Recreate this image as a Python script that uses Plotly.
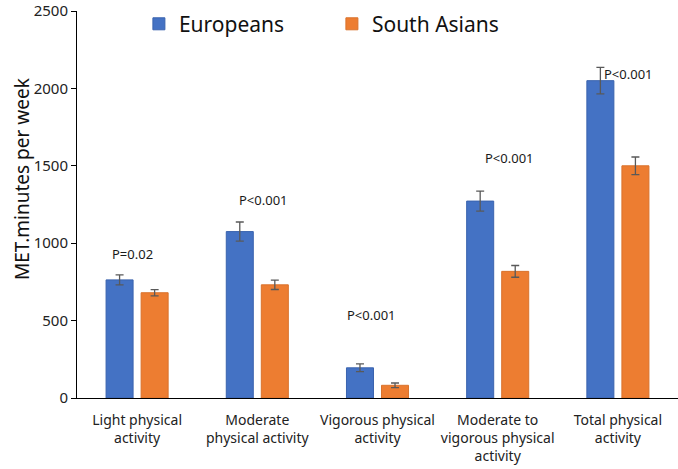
import plotly.graph_objects as go

categories = ["Light physical<br>activity", "Moderate<br>physical activity", "Vigorous physical<br>activity",
              "Moderate to<br>vigorous physical<br>activity", "Total physical<br>activity"]
europeans = [763, 1075, 195, 1272, 2050]
europeans_err = [32, 62, 25, 65, 86]
south_asians = [680, 731, 82, 818, 1500]
south_asians_err = [20, 30, 15, 38, 57]
p_labels = ["P=0.02", "P<0.001", "P<0.001", "P<0.001", "P<0.001"]
p_label_y = [931, 1282, 536, 1550, 2092]
p_label_xshift = [-5, 6, -6, 12, 11]

fig = go.Figure()
fig.add_trace(go.Bar(
    name="Europeans", x=categories, y=europeans,
    marker=dict(color="#4472C4", line=dict(color="#3A63AE", width=1)),
    error_y=dict(type="data", array=europeans_err, color="#595959", thickness=1.3, width=4),
))
fig.add_trace(go.Bar(
    name="South Asians", x=categories, y=south_asians,
    marker=dict(color="#ED7D31", line=dict(color="#D9722C", width=1)),
    error_y=dict(type="data", array=south_asians_err, color="#595959", thickness=1.3, width=4),
))

for c, lab, yy, xs in zip(categories, p_labels, p_label_y, p_label_xshift):
    fig.add_annotation(x=c, y=yy, text=lab, showarrow=False, xshift=xs,
                       font=dict(size=13, color="#1a1a1a", family="Noto Sans"))

fig.add_annotation(xref="paper", yref="paper", x=-0.0915, y=0.566, xanchor="center", yanchor="middle",
                   text="MET.minutes per week", textangle=-90, showarrow=False,
                   font=dict(size=19, color="#111111", family="Noto Sans"))

fig.update_layout(
    width=678, height=469,
    margin=dict(l=77, r=0, t=11, b=71, autoexpand=False),
    paper_bgcolor="white", plot_bgcolor="white",
    barmode="group", bargap=0.417, bargroupgap=0.229,
    font=dict(family="Noto Sans", color="#222222"),
    showlegend=True,
    legend=dict(orientation="h", x=0.103, y=1.019, xanchor="left", yanchor="top",
                font=dict(size=21, color="#111111"), itemwidth=30,
                entrywidth=148, entrywidthmode="pixels", bgcolor="rgba(0,0,0,0)"),
    xaxis=dict(showline=True, linecolor="black", linewidth=1, ticks="", showgrid=False,
               ticklabelstandoff=9, tickfont=dict(size=14, color="#222222")),
    yaxis=dict(range=[0, 2500], dtick=500, showline=True, linecolor="black", linewidth=1,
               ticks="outside", ticklen=5, tickcolor="black", showgrid=False, zeroline=False,
               ticklabeloverflow="allow", tickfont=dict(size=15, color="#222222")),
)

fig.write_html("out.html", config={"displayModeBar": False},
               post_script="document.body.style.margin='0px';")
